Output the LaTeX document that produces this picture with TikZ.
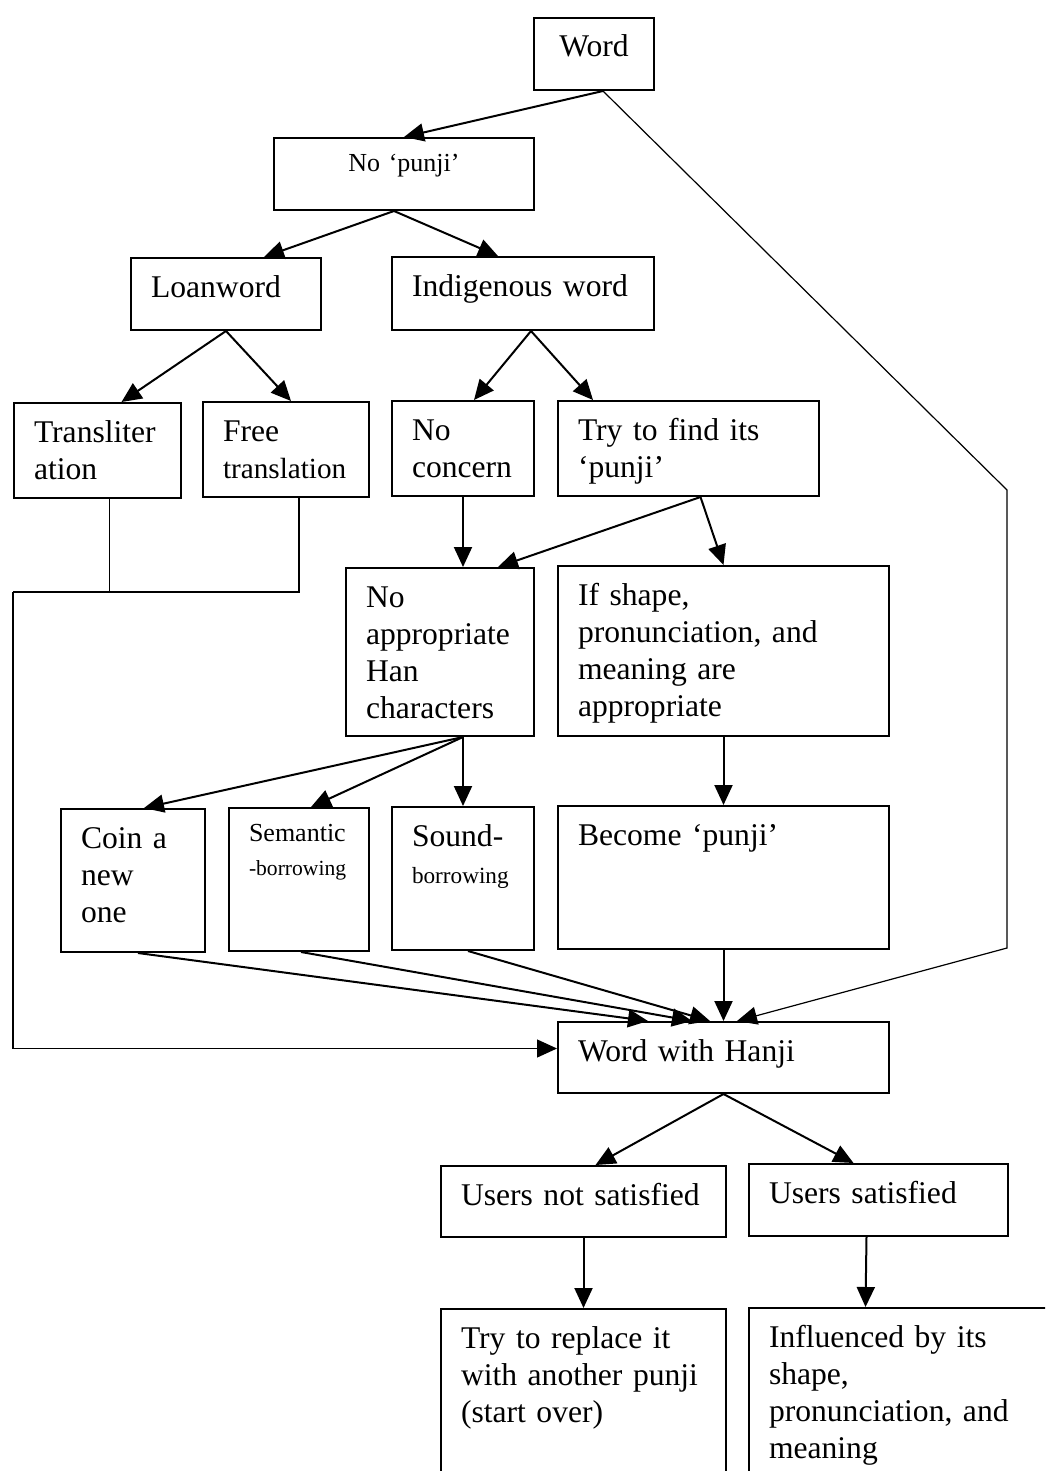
\documentclass[tikz,border=0pt]{standalone}
\usepackage{fontspec}
\setmainfont{Liberation Serif}
\usetikzlibrary{arrows.meta}
\hyphenpenalty=10000
\exhyphenpenalty=10000

\begin{document}
\begin{tikzpicture} [
    x=0.5pt, y=-0.5pt,
    block/.style 2 args = { rectangle, draw, line width=1pt, anchor=north west,
                        align=left, inner xsep=10pt, inner ysep=0pt,
                        text height=19.5pt, text width=#1, text depth=#2,
                        font=\fontsize{15.8pt}{18.5pt}\selectfont },
    line/.style     = { draw, line width=1pt, -{Triangle[length=10pt,width=9pt]} },
    wire/.style     = { draw, line width=0.6pt },
  ]

  \useasboundingbox (0,0) rectangle (1045,1471);
  \clip (0,0) rectangle (1045,1471);

  % Define nodes
  \node[block={40pt}{16.5pt}, align=center] (word) at (533,17) {Word};
  \node[block={110pt}{19pt}, align=center, text height=17pt,
        font=\fontsize{13pt}{16pt}\selectfont] (nopunji) at (273,137) {No `punji'};
  \node[block={75pt}{16.5pt}] (loan) at (130,257) {Loanword};
  \node[block={111pt}{17pt}] (indig) at (391,256) {Indigenous word};
  \node[block={63.5pt}{28pt}] (translit) at (13,402) {Transliter\\ation};
  \node[block={63pt}{28pt}] (free) at (202,401) {Free\\\fontsize{14.6pt}{17.5pt}\selectfont translation};
  \node[block={51pt}{28pt}] (nocon) at (391,400) {No\\concern};
  \node[block={110.5pt}{28pt}] (tryfind) at (557,400) {Try to find its\\`punji'};
  \node[block={74pt}{64.5pt}] (noappr) at (345,567) {No\\appropriate\\Han\\characters};
  \node[block={145.5pt}{65.5pt}] (ifshape) at (557,565) {If shape,\\pronunciation, and\\meaning are\\appropriate};
  \node[block={52pt}{52pt}] (coin) at (60,808) {Coin a\\new\\one};
  \node[block={50pt}{55pt}, text height=16.5pt,
        font=\fontsize{13pt}{17pt}\selectfont] (sem) at (228,807) {Semantic\\\fontsize{10.8pt}{17pt}\selectfont -borrowing};
  \node[block={51pt}{52pt}] (sound) at (391,806) {Sound-\\\fontsize{11.6pt}{16pt}\selectfont borrowing};
  \node[block={145.5pt}{52pt}] (become) at (557,805) {Become `punji'};
  \node[block={145.5pt}{16pt}] (hanji) at (557,1021) {Word with Hanji};
  \node[block={122.5pt}{16pt}] (notsat) at (440,1165) {Users not satisfied};
  \node[block={109.5pt}{16.5pt}] (sat) at (748,1163) {Users satisfied};
  \node[block={122.5pt}{86.5pt}] (replace) at (440,1308) {Try to replace it\\with another punji\\(start over)};
  \node[block={145pt}{86.5pt}] (influ) at (748,1307) {Influenced by its\\shape,\\pronunciation, and\\meaning};

  \coordinate (rtop) at (1007,490);
  \coordinate (rbot) at (1007,948);
  \coordinate (lcorner) at (13,592);

  % connect the nodes
  \path [line] ([xshift=35pt]word.south west) -- (nopunji.north);
  \path [line, line width=0.6pt] ([xshift=35pt]word.south west) -- (rtop) -- (rbot) -- ([xshift=90pt]hanji.north west);
  \path [line] ([xshift=-5pt]nopunji.south) -- ([xshift=19pt]loan.north);
  \path [line] ([xshift=-5pt]nopunji.south) -- ([xshift=-12.5pt]indig.north);
  \path [line] (loan.south) -- ([xshift=12pt]translit.north);
  \path [line] (loan.south) -- ([xshift=2.5pt]free.north);
  \path [line] ([xshift=4pt]indig.south) -- ([xshift=5.5pt]nocon.north);
  \path [line] ([xshift=4pt]indig.south) -- ([xshift=18pt]tryfind.north west);
  \path [wire] ([xshift=6pt]translit.south) |- (lcorner);
  \path [wire] ([xshift=6.5pt]free.south) |- (lcorner);
  \path [line, line width=0.6pt] (lcorner) |- ([yshift=4.5pt]hanji.west);
  \path [line] (nocon.south) -- (nocon.south |- noappr.north);
  \path [line] ([xshift=6pt]tryfind.south) -- ([xshift=29pt]noappr.north);
  \path [line] ([xshift=6pt]tryfind.south) -- (ifshape.north);
  \path [line] ([xshift=11.5pt]noappr.south) -- ([xshift=5.5pt]coin.north);
  \path [line] ([xshift=11.5pt]noappr.south) -- ([xshift=6pt]sem.north);
  \path [line] ([xshift=11.5pt]noappr.south) -- (sound.north);
  \path [line] (ifshape.south) -- (become.north);
  \path [line] ([xshift=2.5pt]coin.south) -- ([xshift=45.5pt]hanji.north west);
  \path [line] ([xshift=1pt]sem.south) -- ([xshift=67.5pt]hanji.north west);
  \path [line] ([xshift=2.5pt]sound.south) -- ([xshift=76.5pt]hanji.north west);
  \path [line] (become.south) -- (hanji.north);
  \path [line] (hanji.south) -- ([xshift=6pt]notsat.north);
  \path [line] (hanji.south) -- ([xshift=-12.5pt]sat.north);
  \path [line] (notsat.south) -- (replace.north);
  \path [line] ([xshift=-6pt]sat.south) -- ([xshift=58.75pt]influ.north west);
\end{tikzpicture}
\end{document}
